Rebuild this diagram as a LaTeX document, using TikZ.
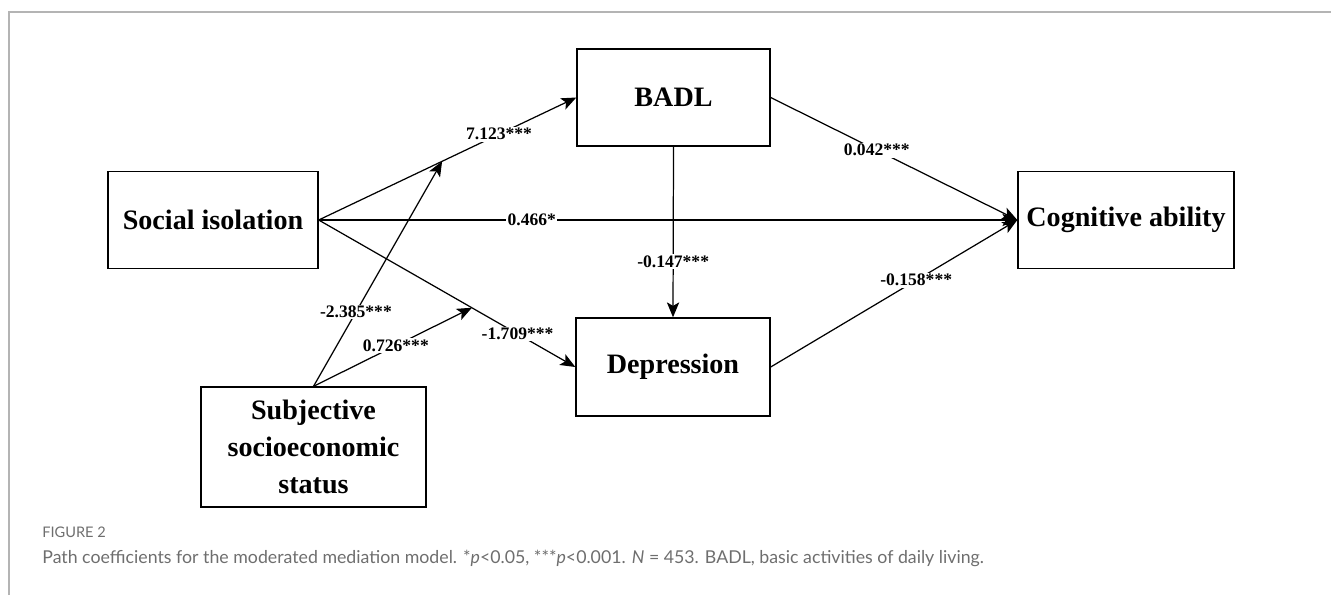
\documentclass[tikz,border=0pt]{standalone}
\usepackage{fontspec}
\setmainfont{Liberation Serif}
\newfontfamily\capfont{Lato}
\usepackage{tikz}
\usetikzlibrary{arrows.meta}
\usetikzlibrary{positioning}

\definecolor{framegray}{HTML}{B4B4B4}
\definecolor{capgray}{HTML}{6E6E6E}

\tikzset{
    var/.style={draw, line width=0.8pt, align=center, inner sep=2pt,
        font=\bfseries\fontsize{16}{21}\selectfont},
    coef/.style={fill=white, inner sep=0.8pt,
        font=\bfseries\fontsize{10}{12}\selectfont},
    link/.style={->, line width=0.7pt}
}

\begin{document}
\begin{tikzpicture}[x=0.02cm,y=-0.02cm,>={Stealth[length=8.5pt,width=7pt,inset=2pt]}]
        \useasboundingbox (0,0) rectangle (1331,595);
        \draw[framegray,line width=0.9pt] (9,595) -- (9,12) -- (1331,12);

        % variables
        \node[var,minimum width=4.2cm,minimum height=1.94cm] (si) at (213,220) {Social isolation};
        \node[var,minimum width=3.86cm,minimum height=1.94cm] (badl) at (673.5,97.5) {BADL};
        \node[var,minimum width=3.88cm,minimum height=1.96cm] (dep) at (673,367) {Depression};
        \node[var,minimum width=4.32cm,minimum height=1.94cm] (cog) at (1126,220) {Cognitive ability};
        \node[var,minimum width=4.5cm,minimum height=2.4cm] (ses) at (313.5,447) {Subjective\\socioeconomic\\status};

        % paths
        \draw[link] (si.east) -- node[coef,pos=0.70] {7.123***} coordinate[pos=0.479] (m1) (badl.west);
        \draw[link] (si.east) -- node[coef,pos=0.305] {0.466*} (cog.west);
        \draw[link] (si.east) -- node[coef,pos=0.775] {-1.709***} coordinate[pos=0.597] (m2) (dep.west);
        \draw[link] (badl.south) -- node[coef,pos=0.674] {-0.147***} (dep.north);
        \draw[link] (badl.east) -- node[coef,pos=0.43] {0.042***} (cog.west);
        \draw[link] (dep.east) -- node[coef,pos=0.59] {-0.158***} (cog.west);

        % moderation
        \draw[link] (ses.north) -- node[coef,pos=0.33] {-2.385***} (m1);
        \draw[link] (ses.north) -- node[coef,pos=0.52] {0.726***} (m2);

        % caption
        \node[anchor=west,inner sep=0pt,text=capgray,font=\capfont\fontsize{8.3}{10}\selectfont] (figno) at (42,532) {FIGURE 2};
        \node[anchor=west,inner sep=0pt,text=capgray,font=\capfont\fontsize{10.1}{12}\selectfont] (caption) at (42,558)
            {Path coefficients for the moderated mediation model. *\textit{p}<0.05, ***\textit{p}<0.001. \textit{N} = 453. BADL, basic activities of daily living.};
    \end{tikzpicture}
\end{document}
